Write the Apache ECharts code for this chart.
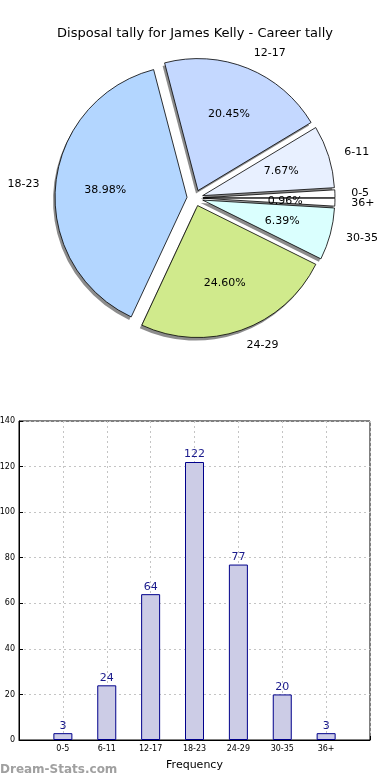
<!DOCTYPE html>
<html>
<head>
<meta charset="utf-8">
<script src="https://cdn.jsdelivr.net/npm/echarts@6/dist/echarts.min.js"></script>
<style>html,body{margin:0;padding:0;background:#fff}#c{width:390px;height:780px}</style>
</head>
<body>
<div id="c"></div>
<script>
var categories = ['0-5', '6-11', '12-17', '18-23', '24-29', '30-35', '36+'];
var frequencies = [3, 24, 64, 122, 77, 20, 3];
var sliceColors = ['#ffffff', '#e8f0ff', '#c4d8ff', '#b3d6ff', '#d0ea8c', '#dafffe', '#ffffff'];
var yTicks = [0, 20, 40, 60, 80, 100, 120, 140];
var titleText = 'Disposal tally for James Kelly - Career tally';

var total = frequencies.reduce(function (a, b) { return a + b; }, 0);
var FONT = 'DejaVu Sans';
var CX = 195, CY = 198, R = 132, OFF = 8;

function pieData(withStyle) {
  return categories.map(function (c, i) {
    var d = { name: c, value: frequencies[i], selected: true };
    if (withStyle) {
      d.itemStyle = { color: sliceColors[i] };
    }
    return d;
  });
}

function basePie(center, radius) {
  return {
    type: 'pie', center: center, radius: radius,
    startAngle: 0, clockwise: false,
    selectedMode: 'multiple', selectedOffset: OFF,
    silent: true, emphasis: { disabled: true },
    labelLine: { show: false }
  };
}

var shadowPie = basePie([CX - 2, CY + 3], [0, R]);
shadowPie.itemStyle = { color: 'rgba(0,0,0,0.45)', borderWidth: 0 };
shadowPie.label = { show: false };
shadowPie.data = pieData(false);

var mainPie = basePie([CX, CY], [0, R]);
mainPie.itemStyle = { borderColor: '#000', borderWidth: 0.8 };
mainPie.label = { show: false };
mainPie.data = pieData(true);

var pctPie = basePie([CX, CY], [R * 0.2, R]);
pctPie.itemStyle = { color: 'rgba(0,0,0,0)', borderWidth: 0 };
pctPie.label = {
  show: true, position: 'inside', fontFamily: FONT, fontSize: 11, color: '#000',
  formatter: function (p) { return (p.value / total * 100).toFixed(2) + '%'; }
};
pctPie.data = pieData(false);

var namePie = basePie([CX, CY], [R, R * 1.2]);
namePie.itemStyle = { color: 'rgba(0,0,0,0)', borderWidth: 0 };
namePie.label = { show: true, position: 'inside', fontFamily: FONT, fontSize: 11, color: '#000', formatter: '{b}' };
namePie.labelLayout = function (p) {
  var mid = p.labelRect.x + p.labelRect.width / 2;
  return { align: mid > CX ? 'left' : 'right' };
};
namePie.data = pieData(false);

var chart = echarts.init(document.getElementById('c'), null, { renderer: 'canvas' });
var option = {
  animation: false,
  backgroundColor: '#ffffff',
  title: {
    text: titleText, left: 'center', top: 22,
    textStyle: { fontFamily: FONT, fontSize: 13, fontWeight: 'normal', color: '#000' }
  },
  graphic: [{
    type: 'text', left: 0, top: 764,
    style: { text: 'Dream-Stats.com', fontFamily: FONT, fontSize: 12, fontWeight: 'bold', fill: '#a0a0a0' }
  }],
  grid: {
    left: 19, right: 20, top: 421, bottom: 40,
    outerBoundsMode: 'none', containLabel: false,
    show: true, borderColor: '#000', borderWidth: 1, backgroundColor: 'transparent'
  },
  xAxis: {
    type: 'category',
    data: [''].concat(categories).concat(['']),
    boundaryGap: false,
    name: 'Frequency', nameLocation: 'middle', nameGap: 20,
    nameTextStyle: { fontFamily: FONT, fontSize: 11, color: '#000' },
    axisLine: { lineStyle: { color: '#000', width: 1 } },
    axisTick: { show: true, inside: true, length: 4, interval: 0, lineStyle: { color: '#000' } },
    axisLabel: { interval: 0, fontFamily: FONT, fontSize: 8, color: '#000', margin: 5 },
    splitLine: { show: true, interval: 0, lineStyle: { color: '#c4c4c4', type: [2, 3], width: 1 } }
  },
  yAxis: {
    type: 'value', min: 0, max: 140, interval: 20,
    axisLine: { show: true, lineStyle: { color: '#000', width: 1 } },
    axisTick: { show: true, inside: true, length: 4, lineStyle: { color: '#000' } },
    axisLabel: { fontFamily: FONT, fontSize: 8, color: '#000', margin: 4 },
    splitLine: { show: true, lineStyle: { color: '#c4c4c4', type: [2, 3], width: 1 } }
  },
  series: [
    shadowPie,
    mainPie,
    pctPie,
    namePie,
    {
      type: 'bar',
      data: ['-'].concat(frequencies).concat(['-']),
      barWidth: 19,
      itemStyle: { color: '#cccce6', borderColor: '#00008b', borderWidth: 1 },
      label: { show: true, position: 'top', distance: 2, fontFamily: FONT, fontSize: 11, color: '#1a1a8c' },
      silent: true
    }
  ]
};
chart.setOption(option);
</script>
</body>
</html>
